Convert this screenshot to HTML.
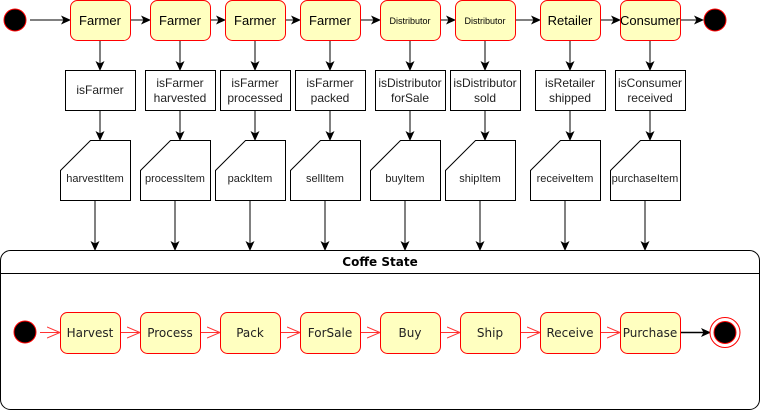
<!DOCTYPE html>
<html><head><meta charset="utf-8"><style>body{margin:0;background:#fff}svg{display:block}</style></head><body>
<svg width="761" height="411" viewBox="0 0 761 411" xmlns="http://www.w3.org/2000/svg" font-family="Liberation Sans, sans-serif">
<defs>
<marker id="a" markerWidth="10" markerHeight="10" refX="9" refY="5" orient="auto" markerUnits="userSpaceOnUse"><path d="M0,0.5 L10,5 L0,9.5 L2.5,5 Z" fill="#000"/></marker>
<marker id="r" markerWidth="14" markerHeight="12" refX="13" refY="6" orient="auto" markerUnits="userSpaceOnUse"><path d="M0,0.5 L13,6 L0,11.5" fill="none" stroke="#f33" stroke-width="1"/></marker>
</defs>
<circle cx="15" cy="20" r="11" fill="#000" stroke="#f00"/>
<circle cx="715" cy="20" r="11" fill="#000" stroke="#f00"/>
<g stroke="#000" stroke-width="1" marker-end="url(#a)">
<line x1="30" y1="20" x2="70" y2="20"/><line x1="130" y1="20" x2="150" y2="20"/><line x1="210" y1="20" x2="225" y2="20"/><line x1="285" y1="20" x2="300" y2="20"/><line x1="360" y1="20" x2="380" y2="20"/><line x1="440" y1="20" x2="455" y2="20"/><line x1="515" y1="20" x2="540" y2="20"/><line x1="600" y1="20" x2="620" y2="20"/><line x1="680" y1="20" x2="703" y2="20"/>
</g>
<g fill="#ffffc0" stroke="#f00">
<rect x="70.5" y="0.5" width="60" height="40" rx="7"/><rect x="150.5" y="0.5" width="60" height="40" rx="7"/><rect x="225.5" y="0.5" width="60" height="40" rx="7"/><rect x="300.5" y="0.5" width="60" height="40" rx="7"/><rect x="380.5" y="0.5" width="60" height="40" rx="7"/><rect x="455.5" y="0.5" width="60" height="40" rx="7"/><rect x="540.5" y="0.5" width="60" height="40" rx="7"/><rect x="620.5" y="0.5" width="60" height="40" rx="7"/>
</g>
<g font-size="13" text-anchor="middle" fill="#000">
<text x="100" y="25">Farmer</text><text x="180" y="25">Farmer</text><text x="255" y="25">Farmer</text><text x="330" y="25">Farmer</text>
<text x="410" y="24" font-size="9">Distributor</text><text x="485" y="24" font-size="9">Distributor</text>
<text x="570" y="25">Retailer</text><text x="650" y="25">Consumer</text>
</g>
<g stroke="#000" marker-end="url(#a)">
<line x1="100" y1="41" x2="100" y2="70"/><line x1="180" y1="41" x2="180" y2="70"/><line x1="255" y1="41" x2="255" y2="70"/><line x1="330" y1="41" x2="330" y2="70"/><line x1="410" y1="41" x2="410" y2="70"/><line x1="485" y1="41" x2="485" y2="70"/><line x1="570" y1="41" x2="570" y2="70"/><line x1="650" y1="41" x2="650" y2="70"/>
<line x1="100" y1="110" x2="100" y2="140"/><line x1="180" y1="110" x2="180" y2="140"/><line x1="255" y1="110" x2="255" y2="140"/><line x1="330" y1="110" x2="330" y2="140"/><line x1="410" y1="110" x2="410" y2="140"/><line x1="485" y1="110" x2="485" y2="140"/><line x1="570" y1="110" x2="570" y2="140"/><line x1="650" y1="110" x2="650" y2="140"/>
<line x1="95" y1="200" x2="95" y2="250"/><line x1="175" y1="200" x2="175" y2="250"/><line x1="250" y1="200" x2="250" y2="250"/><line x1="325" y1="200" x2="325" y2="250"/><line x1="405" y1="200" x2="405" y2="250"/><line x1="480" y1="200" x2="480" y2="250"/><line x1="565" y1="200" x2="565" y2="250"/><line x1="645" y1="200" x2="645" y2="250"/>
</g>
<g fill="#fff" stroke="#000">
<rect x="65.5" y="70.5" width="70" height="40"/><rect x="145.5" y="70.5" width="70" height="40"/><rect x="220.5" y="70.5" width="70" height="40"/><rect x="295.5" y="70.5" width="70" height="40"/><rect x="375.5" y="70.5" width="70" height="40"/><rect x="450.5" y="70.5" width="70" height="40"/><rect x="535.5" y="70.5" width="70" height="40"/><rect x="615.5" y="70.5" width="70" height="40"/>
</g>
<g font-size="12" text-anchor="middle" fill="#222">
<text x="100" y="94">isFarmer</text>
<text x="180" y="87">isFarmer</text><text x="180" y="102">harvested</text>
<text x="255" y="87">isFarmer</text><text x="255" y="102">processed</text>
<text x="330" y="87">isFarmer</text><text x="330" y="102">packed</text>
<text x="410" y="87">isDistributor</text><text x="410" y="102">forSale</text>
<text x="485" y="87">isDistributor</text><text x="485" y="102">sold</text>
<text x="570" y="87">isRetailer</text><text x="570" y="102">shipped</text>
<text x="650" y="87">isConsumer</text><text x="650" y="102">received</text>
</g>
<g fill="#fff" stroke="#000">
<path d="M90.5,140.5 H130.5 V200.5 H60.5 V170.5 Z"/><path d="M170.5,140.5 H210.5 V200.5 H140.5 V170.5 Z"/><path d="M245.5,140.5 H285.5 V200.5 H215.5 V170.5 Z"/><path d="M320.5,140.5 H360.5 V200.5 H290.5 V170.5 Z"/><path d="M400.5,140.5 H440.5 V200.5 H370.5 V170.5 Z"/><path d="M475.5,140.5 H515.5 V200.5 H445.5 V170.5 Z"/><path d="M560.5,140.5 H600.5 V200.5 H530.5 V170.5 Z"/><path d="M640.5,140.5 H680.5 V200.5 H610.5 V170.5 Z"/>
</g>
<g font-size="11" text-anchor="middle" fill="#222">
<text x="95" y="182">harvestItem</text><text x="175" y="182">processItem</text><text x="250" y="182">packItem</text><text x="325" y="182">sellItem</text><text x="405" y="182">buyItem</text><text x="480" y="182">shipItem</text><text x="565" y="182">receiveItem</text><text x="645" y="182">purchaseItem</text>
</g>
<rect x="0.5" y="250.5" width="759" height="159" rx="10" fill="#fff" stroke="#000"/>
<line x1="0.5" y1="273.5" x2="759.5" y2="273.5" stroke="#000"/>
<text x="380" y="266" font-size="12" font-weight="bold" text-anchor="middle" font-family="DejaVu Sans, sans-serif">Coffe State</text>
<circle cx="25" cy="332" r="11" fill="#000" stroke="#f00"/>
<g stroke="#f33" stroke-width="1" marker-end="url(#r)">
<line x1="40" y1="332.5" x2="60" y2="332.5"/><line x1="120" y1="332.5" x2="140" y2="332.5"/><line x1="200" y1="332.5" x2="220" y2="332.5"/><line x1="280" y1="332.5" x2="300" y2="332.5"/><line x1="360" y1="332.5" x2="380" y2="332.5"/><line x1="440" y1="332.5" x2="460" y2="332.5"/><line x1="520" y1="332.5" x2="540" y2="332.5"/><line x1="600" y1="332.5" x2="620" y2="332.5"/>
</g>
<line x1="680" y1="332.5" x2="710" y2="332.5" stroke="#000" stroke-width="1.5" marker-end="url(#a)"/>
<g fill="#ffffc0" stroke="#f00">
<rect x="60.5" y="312.5" width="60" height="41" rx="7"/><rect x="140.5" y="312.5" width="60" height="41" rx="7"/><rect x="220.5" y="312.5" width="60" height="41" rx="7"/><rect x="300.5" y="312.5" width="60" height="41" rx="7"/><rect x="380.5" y="312.5" width="60" height="41" rx="7"/><rect x="460.5" y="312.5" width="60" height="41" rx="7"/><rect x="540.5" y="312.5" width="60" height="41" rx="7"/><rect x="620.5" y="312.5" width="60" height="41" rx="7"/>
</g>
<g font-size="12" text-anchor="middle" fill="#222" font-family="DejaVu Sans, sans-serif">
<text x="90" y="337">Harvest</text><text x="170" y="337">Process</text><text x="250" y="337">Pack</text><text x="330" y="337">ForSale</text><text x="410" y="337">Buy</text><text x="490" y="337">Ship</text><text x="570" y="337">Receive</text><text x="650" y="337">Purchase</text>
</g>
<circle cx="725" cy="332.5" r="15" fill="#fff" stroke="#f00"/>
<circle cx="725" cy="332.5" r="11" fill="#000" stroke="#f00"/>
</svg>
</body></html>
